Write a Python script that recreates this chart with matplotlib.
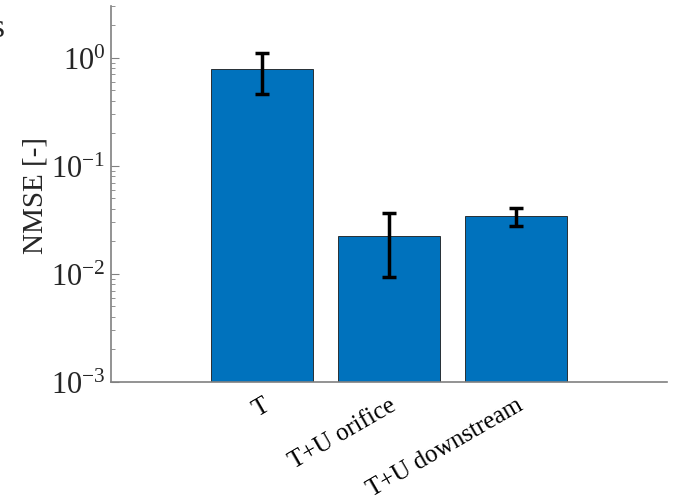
import numpy as np
import matplotlib.pyplot as plt
from matplotlib.ticker import LogLocator, NullFormatter, FuncFormatter

plt.rcParams['font.family'] = ['Liberation Serif', 'DejaVu Serif']
plt.rcParams['mathtext.fontset'] = 'custom'
plt.rcParams['mathtext.rm'] = 'Liberation Serif'
plt.rcParams['axes.unicode_minus'] = False

# Data
categories = ['T', 'T+U orifice', 'T+U downstream']
nmse = [0.78, 0.0226, 0.0341]
err_low = [0.46, 0.0093, 0.0275]
err_high = [1.11, 0.0368, 0.041]

x = np.arange(len(categories))
yerr = np.array([np.subtract(nmse, err_low), np.subtract(err_high, nmse)])

fig = plt.figure(figsize=(6.73, 5.02), dpi=100)
ax = fig.add_axes([0.165, 0.237, 0.826, 0.749])

ax.bar(x, nmse, width=0.8, color='#0072BD', edgecolor='#1a1a1a', linewidth=0.6)
ax.errorbar(x, nmse, yerr=yerr, fmt='none', ecolor='black', elinewidth=2.5,
            capsize=5, capthick=2.5)

ax.set_yscale('log')
ax.set_ylim(1e-3, 3)
ax.set_xlim(-1.19, 3.19)
ax.yaxis.set_major_locator(LogLocator(base=10, numticks=10))
ax.yaxis.set_major_formatter(FuncFormatter(lambda v, p: r'$\mathrm{10^{%d}}$' % round(np.log10(v))))
ax.yaxis.set_minor_locator(LogLocator(base=10, subs=np.arange(2, 10), numticks=10))
ax.yaxis.set_minor_formatter(NullFormatter())

ax.set_xticks(x)
ax.set_xticklabels(categories, rotation=30, ha='right', rotation_mode='anchor', fontsize=18)
ax.tick_params(axis='x', length=0, pad=8)
ax.tick_params(axis='y', which='major', direction='in', length=6, labelsize=22, colors='#808080',
               labelcolor='#262626', pad=4)
ax.tick_params(axis='y', which='minor', direction='in', length=3, colors='#808080')
ax.set_ylabel('NMSE [-]', fontsize=21, color='#262626')
ax.yaxis.set_label_coords(-0.113, 0.5)

for side in ['top', 'right']:
    ax.spines[side].set_visible(False)
for side in ['left', 'bottom']:
    ax.spines[side].set_color('#808080')
    ax.spines[side].set_linewidth(1.2)

# partly cut-off panel letter at the top left, as in the source figure
fig.text(-0.012, 0.926, 's', fontsize=24, color='#262626')

fig.savefig('out.png', dpi=100)
